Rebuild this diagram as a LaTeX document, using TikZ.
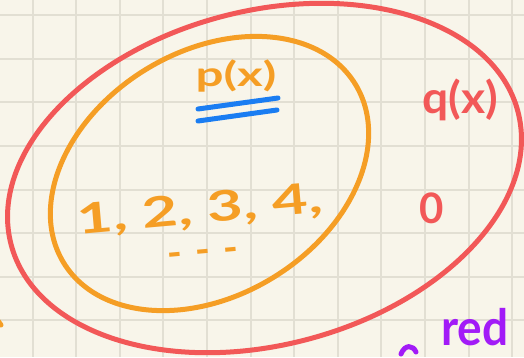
\documentclass[tikz,border=0pt]{standalone}
\usepackage{fontspec}
\setmainfont{Lato}
\definecolor{paper}{HTML}{F8F5EA}
\definecolor{gridc}{HTML}{E2DFD3}
\definecolor{redink}{HTML}{F25858}
\definecolor{orangeink}{HTML}{F59E25}
\definecolor{blueink}{HTML}{1A7DF2}
\definecolor{purpleink}{HTML}{A21BF7}
\begin{document}
\begin{tikzpicture}[x=1pt,y=-1pt,
  ink/.style={line width=5pt, line cap=round, line join=round},
  gridline/.style={gridc, line width=2pt},
  hand/.style={inner sep=0pt, font=\fontsize{#1}{#1}\selectfont\bfseries}]
\useasboundingbox (0,0) rectangle (524,357);
\clip (0,0) rectangle (524,357);
\fill[paper] (0,0) rectangle (524,357);
\foreach \i in {0,...,11} \draw[gridline] ({32.5+43.6*\i},0) -- ({32.5+43.6*\i},357);
\foreach \j in {0,...,7} \draw[gridline] (0,{15.2+43.6*\j}) -- (524,{15.2+43.6*\j});
% outer red ellipse
\draw[ink, redink, rotate around={14.7:(264.5,178)}] (264.5,178) ellipse [x radius=262, y radius=167];
% inner orange ellipse
\draw[ink, orangeink, rotate around={31.5:(209.5,173.5)}] (209.5,173.5) ellipse [x radius=171, y radius=122];
% labels
\node[hand=34, text=orangeink] (p) at (236,76) {\scalebox{1.45}[1]{p(x)}};
\coordinate (u1a) at (198,109);
\coordinate (u1b) at (278,98);
\coordinate (u2a) at (198,121);
\coordinate (u2b) at (277,110);
\draw[ink, blueink] (u1a) -- (u1b);
\draw[ink, blueink] (u2a) -- (u2b);
\node[hand=44, text=redink] (q) at (460,100) {\scalebox{1.05}[1]{q(x)}};
\node[hand=42, text=orangeink, rotate=5] (nums) at (200,211) {\scalebox{1.47}[1]{1, 2, 3, 4,}};
\node[hand=40, text=orangeink, rotate=5] (dots) at (203,257) {-\,\,-\,\,-};
\node[hand=42, text=redink] (zero) at (432,208) {0};
\node[hand=50, text=purpleink, anchor=base west] (red) at (441,345) {\scalebox{0.92}[1]{red}};
\draw[ink, purpleink] (401,354) .. controls (405,344) and (413,345) .. (416,352);
\draw[ink, orangeink] (-4,318) -- (1,325);
\end{tikzpicture}
\end{document}
